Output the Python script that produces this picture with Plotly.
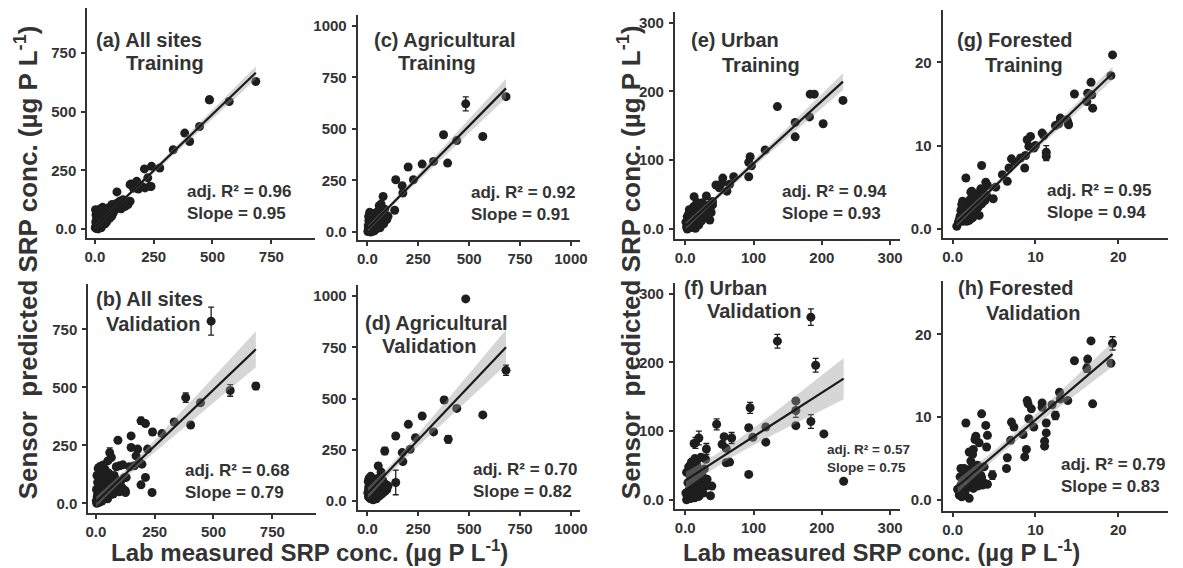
import numpy as np
import plotly.graph_objects as go

W, H = 1183, 568

# ---------------- data ----------------
# (a) All sites - Training
a_x = [684, 571, 487, 445, 382, 403, 333, 276, 241, 211, 234, 213, 150, 178, 164, 185, 199, 225, 154, 239, 94, 150, 141, 101, 129, 112, 73,
       2, 4, 5, 6, 8, 9, 10, 12, 13, 15, 16, 18, 20, 22, 24, 25, 28, 30, 32, 34, 36, 38, 40, 42, 45, 48, 50, 52, 55, 58, 60, 63, 65, 68,
       70, 72, 75, 78, 80, 83, 86, 90, 94, 98, 102, 106, 110, 115, 120, 126, 3, 7, 11, 14, 19, 23, 27, 33, 44, 53]
a_y = [629, 544, 551, 437, 409, 373, 338, 260, 267, 256, 182, 175, 189, 203, 174, 170, 182, 218, 192, 181, 158, 118, 104, 90, 96, 86, 104,
       5, 30, 60, 15, 45, 75, 20, 55, 8, 38, 68, 25, 50, 80, 12, 40, 62, 28, 48, 18, 70, 35, 55, 85, 42, 65, 30, 75, 52, 90, 60, 45, 80, 70,
       95, 55, 85, 68, 100, 78, 92, 88, 110, 98, 105, 118, 95, 112, 125, 120, 82, 2, 72, 0, 10, 85, 5, 92, 22, 62]
a_ex = [487]
a_ey = [551]
a_ee = [12]

# (b) All sites - Validation
b_x = [445, 403, 150, 94, 220, 178, 171, 196, 211, 192, 239, 101, 143, 129, 126, 66, 51, 150, 185, 164, 115, 87,
       2, 3, 5, 6, 8, 10, 11, 12, 14, 15, 17, 18, 20, 22, 24, 25, 27, 28, 30, 32, 34, 35, 38, 40, 42, 44, 46, 48, 50, 52, 55, 58, 60,
       63, 66, 70, 74, 78, 82, 86, 90, 95, 100, 105, 110, 115, 120, 125, 4, 9, 13, 16, 21, 26, 31, 37, 43, 54, 65, 80]
b_y = [434, 338, 291, 272, 234, 234, 205, 169, 112, 80, 47, 162, 158, 112, 47, 198, 183, 241, 180, 162, 166, 158,
       10, 60, 120, 30, 90, 150, 20, 70, 130, 5, 45, 110, 160, 35, 85, 140, 15, 65, 100, 50, 125, 25, 80, 145, 40, 95, 60, 115, 20, 75,
       130, 35, 90, 55, 105, 70, 40, 120, 85, 60, 100, 75, 50, 95, 70, 60, 110, 55, 0, 40, 155, 80, 115, 10, 165, 55, 135, 30, 45, 65]
b_ex = [490, 680, 571, 382, 192, 211, 59, 333, 241, 281]
b_ey = [786, 506, 487, 456, 356, 344, 219, 351, 308, 301]
b_ee = [60, 15, 25, 20, 15, 12, 20, 10, 12, 8]

# (c) Agricultural - Training
c_x = [567, 439, 325, 269, 226, 171, 174, 139, 134, 77, 101, 58, 67,
       2, 4, 5, 7, 8, 10, 12, 14, 15, 17, 18, 20, 22, 24, 25, 27, 30, 32, 35, 38, 40, 42, 45, 48, 50, 52, 55, 58, 60, 62, 65, 68,
       70, 72, 75, 80, 85, 90, 95, 6, 11, 16, 21, 28, 34, 44]
c_y = [463, 443, 342, 329, 253, 224, 189, 253, 105, 172, 76, 127, 135,
       2, 30, 15, 55, 8, 40, 22, 70, 5, 45, 85, 28, 60, 12, 35, 90, 50, 18, 75, 40, 62, 25, 95, 55, 30, 80, 45, 70, 100, 20, 60, 35,
       85, 50, 70, 40, 110, 65, 60, 75, 95, 0, 50, 10, 5, 15]
c_ex = [483, 374, 394, 200, 681]
c_ey = [621, 471, 334, 315, 656]
c_ee = [34, 12, 12, 12, 10]

# (d) Agricultural - Validation
d_x = [483, 567, 439, 325, 236, 201, 139, 171, 174, 210, 101, 67,
       2, 4, 5, 7, 8, 10, 12, 14, 15, 17, 18, 20, 22, 24, 25, 27, 30, 32, 35, 38, 40, 42, 45, 48, 50, 52, 55, 58, 60, 62, 65, 68,
       70, 72, 75, 80, 85, 90, 95, 6, 11, 16, 21, 28, 34, 44]
d_y = [987, 420, 452, 337, 309, 374, 317, 236, 192, 252, 73, 141,
       40, 95, 20, 70, 110, 30, 55, 105, 10, 45, 80, 25, 60, 100, 15, 50, 85, 35, 65, 20, 95, 45, 75, 30, 110, 55, 40, 80, 25, 65, 90,
       50, 70, 35, 100, 60, 45, 80, 55, 60, 15, 120, 35, 5, 85, 10]
d_ex = [681, 377, 397, 85, 139, 53, 269]
d_ey = [638, 493, 301, 244, 90, 171, 415]
d_ee = [25, 15, 18, 18, 60, 15, 10]

# (e) Urban - Training
e_x = [231, 202, 189, 183, 182, 161, 161, 135, 117, 95, 93, 97, 93, 71, 61, 55, 45, 54, 36, 31, 13, 50, 65, 40, 35,
       1, 2, 3, 4, 5, 6, 7, 8, 9, 10, 11, 12, 13, 14, 15, 16, 17, 18, 19, 20, 21, 22, 24, 25, 26, 28, 30, 32, 34, 36, 38, 40,
       3, 6, 9, 12, 15, 18]
e_y = [187, 153, 196, 196, 163, 155, 134, 178, 115, 105, 97, 92, 76, 76, 55, 74, 64, 67, 13, 48, 47, 60, 65, 40, 35,
       10, 3, 18, 8, 22, 5, 15, 25, 12, 2, 20, 30, 8, 17, 35, 10, 25, 14, 28, 6, 33, 20, 12, 38, 18, 28, 22, 32, 26, 30, 24, 35,
       0, 28, 5, 32, 1, 38]
e_ex = []
e_ey = []
e_ee = []

# (f) Urban - Validation
f_x = [162, 162, 203, 232, 118, 118, 99, 93, 93, 57, 54, 60, 13, 30, 39, 37, 60, 65,
       1, 2, 3, 4, 5, 6, 7, 8, 9, 10, 11, 12, 13, 14, 15, 16, 17, 18, 19, 20, 21, 22, 23, 24, 25, 26, 27, 28, 30, 32,
       2, 5, 8, 11, 14, 17, 20]
f_y = [144, 108, 96, 27, 106, 84, 91, 105, 37, 92, 81, 54, 82, 59, 20, 6, 75, 55,
       10, 40, 5, 25, 48, 15, 35, 2, 55, 20, 45, 8, 30, 60, 12, 38, 50, 18, 28, 5, 42, 22, 62, 15, 35, 10, 25, 45, 20, 30,
       0, 12, 50, 38, 3, 58, 15]
f_ex = [184, 135, 191, 162, 184, 95, 46, 68, 31, 20, 15]
f_ey = [266, 231, 196, 130, 114, 134, 110, 90, 74, 90, 83]
f_ee = [12, 10, 10, 10, 10, 8, 8, 8, 8, 10, 8]

# (g) Forested - Training
g_x = [19.3, 19.1, 16.7, 16.8, 16.3, 16.2, 16.9, 14.7, 13.9, 13.8, 13.0, 12.4, 10.8, 9.4, 9.0, 9.2, 9.8, 8.7, 8.2, 7.1, 6.8, 6.6,
       3.5, 4.0, 4.9, 1.6, 1.2, 2.3, 11.0, 12.8, 14.0, 10.0, 7.5, 6.0, 5.2, 4.2, 3.6, 8.8,
       0.5, 0.7, 0.9, 1.0, 1.2, 1.3, 1.5, 1.6, 1.8, 1.9, 2.0, 2.1, 2.3, 2.4, 2.5, 2.6, 2.8, 2.9, 3.0, 3.1, 3.3, 3.5, 3.7, 3.9, 4.1,
       0.8, 1.1, 1.7, 2.2, 2.7, 3.2, 3.4]
g_y = [20.9, 18.4, 17.6, 16.1, 16.3, 15.3, 14.5, 16.2, 12.8, 13.1, 13.3, 12.4, 11.5, 11.1, 10.7, 9.9, 9.7, 7.3, 8.5, 8.4, 7.3, 5.7,
       7.6, 5.6, 3.6, 6.1, 3.3, 4.5, 11.2, 12.6, 12.5, 10.0, 8.0, 6.5, 5.0, 5.2, 4.0, 8.8,
       0.3, 0.8, 1.5, 2.2, 0.9, 1.8, 2.6, 1.2, 3.0, 2.0, 1.0, 3.5, 2.4, 1.3, 3.8, 2.8, 1.8, 4.2, 3.2, 2.6, 3.9, 3.0, 4.5, 3.4, 4.0,
       1.1, 2.9, 0.9, 4.4, 2.2, 1.6, 4.8]
g_ex = [11.3, 11.3]
g_ey = [9.2, 8.7]
g_ee = [0.8, 0.5]

# (h) Forested - Validation
h_x = [19.1, 16.7, 16.3, 16.9, 14.7, 12.9, 13.9, 11.3, 11.3, 11.1, 11.1, 10.8, 10.8, 9.0, 9.1, 9.5, 9.2, 9.8, 8.5, 8.9, 8.7,
       7.1, 7.4, 6.6, 6.5, 3.5, 4.0, 4.2, 4.1, 1.6, 2.8, 2.5, 2.2, 2.7, 1.0, 1.4, 3.5, 13.0, 12.0, 7.0, 3.8, 3.0, 2.0, 2.4, 3.2,
       0.6, 0.8, 1.0, 1.1, 1.3, 1.5, 1.7, 1.9, 2.0, 2.2, 2.3, 2.5, 2.7, 2.8, 3.0, 3.2, 3.4, 3.6, 3.9, 4.2, 0.9, 1.2, 1.6, 2.1, 2.6, 3.1]
h_y = [16.5, 19.2, 17.0, 11.6, 16.8, 13.0, 12.0, 9.3, 8.1, 7.1, 6.5, 11.7, 11.2, 12.0, 11.6, 11.0, 9.8, 8.8, 7.9, 6.1, 5.2,
       9.4, 8.8, 5.1, 3.8, 10.4, 9.0, 7.8, 6.4, 9.3, 7.7, 6.1, 4.7, 7.3, 3.8, 3.8, 2.7, 12.2, 11.5, 7.2, 4.0, 3.5, 5.8, 5.5, 6.9,
       1.3, 0.6, 1.8, 0.4, 2.5, 1.0, 3.2, 1.6, 0.2, 2.1, 3.8, 1.4, 2.6, 1.9, 4.2, 2.3, 3.0, 1.8, 2.0, 1.9, 2.8, 0.8, 3.5, 2.7, 2.0, 1.7]
h_ex = [19.3, 12.4, 4.8, 16.2]
h_ey = [18.9, 10.2, 3.0, 15.9]
h_ee = [0.8, 0.5, 0.5, 0.5]

# fitted lines (intercept, slope)
fit_intercept = {"a": 8, "b": 5, "c": 15, "d": 36, "e": 4, "f": 28, "g": 0.26, "h": 1.15}
fit_slope = {"a": 0.963, "b": 0.97, "c": 1.0, "d": 1.05, "e": 0.91, "f": 0.64, "g": 0.955, "h": 0.852}

titles = {
    "a": ("(a) All sites", "Training"), "b": ("(b) All sites", "Validation"),
    "c": ("(c) Agricultural", "Training"), "d": ("(d) Agricultural", "Validation"),
    "e": ("(e) Urban", "Training"), "f": ("(f) Urban", "Validation"),
    "g": ("(g) Forested", "Training"), "h": ("(h) Forested", "Validation"),
}
adj_r2 = {"a": "0.96", "b": "0.68", "c": "0.92", "d": "0.70", "e": "0.94", "f": "0.57", "g": "0.95", "h": "0.79"}
slope_lbl = {"a": "0.95", "b": "0.79", "c": "0.91", "d": "0.82", "e": "0.93", "f": "0.75", "g": "0.94", "h": "0.83"}

ticks_all = [0, 250, 500, 750]
ticks_all_txt = ["0.0", "250", "500", "750"]
ticks_ag = [0, 250, 500, 750, 1000]
ticks_ag_txt = ["0.0", "250", "500", "750", "1000"]
ticks_urb = [0, 100, 200, 300]
ticks_urb_txt = ["0.0", "100", "200", "300"]
ticks_for = [0, 10, 20]
ticks_for_txt = ["0.0", "10", "20"]

data = {
    "a": (a_x, a_y, a_ex, a_ey, a_ee), "b": (b_x, b_y, b_ex, b_ey, b_ee),
    "c": (c_x, c_y, c_ex, c_ey, c_ee), "d": (d_x, d_y, d_ex, d_ey, d_ee),
    "e": (e_x, e_y, e_ex, e_ey, e_ee), "f": (f_x, f_y, f_ex, f_ey, f_ee),
    "g": (g_x, g_y, g_ex, g_ey, g_ee), "h": (h_x, h_y, h_ex, h_ey, h_ee),
}

# ---------------- layout (pixels) ----------------
layout_spec = {
    "a": (1, (85, 315, 8, 238), [-32, 937], [-37, 943], ticks_all, ticks_all_txt, ticks_all, ticks_all_txt),
    "c": (2, (357.7, 582, 15, 240), [-48, 1045], [-37, 1052], ticks_ag, ticks_ag_txt, ticks_ag, ticks_ag_txt),
    "e": (3, (677.7, 905, 11.7, 239), [-15, 315], [-14, 316], ticks_urb, ticks_urb_txt, ticks_urb, ticks_urb_txt),
    "g": (4, (947.7, 1175, 10, 238.3), [-1.2, 26], [-1.1, 26.3], ticks_for, ticks_for_txt, ticks_for, ticks_for_txt),
    "b": (5, (86, 316, 285, 514), [-32, 937], [-42, 944], ticks_all, ticks_all_txt, ticks_all, ticks_all_txt),
    "d": (6, (357.7, 582, 285.7, 511), [-48, 1045], [-45, 1054], ticks_ag, ticks_ag_txt, ticks_ag, ticks_ag_txt),
    "f": (7, (677.7, 905, 283.3, 510), [-15, 315], [-13.5, 316], ticks_urb, ticks_urb_txt, ticks_urb, ticks_urb_txt),
    "h": (8, (947.7, 1175, 281.7, 511.7), [-1.2, 26], [-1.3, 26.4], ticks_for, ticks_for_txt, ticks_for, ticks_for_txt),
}
title_pos = {
    "a": ((92, 40), (122, 63)), "c": ((371.7, 40), (396.7, 63)),
    "e": ((691.7, 40), (723, 65)), "g": ((960, 40), (988.3, 65)),
    "b": ((92, 300), (102, 324.3)), "d": ((362.7, 323.3), (380.7, 346.7)),
    "f": ((685, 288.3), (708.3, 311.7)), "h": ((961, 289), (989.3, 313.3)),
}
stat_pos = {
    "a": (184, 203.3, 17), "c": (470, 203.8, 17), "b": (181.7, 482.8, 17), "d": (471.7, 481.7, 17),
    "e": (783.3, 202.7, 17), "g": (1050.7, 201.7, 17), "f": (829.3, 459.7, 13.5), "h": (1065, 476.7, 17),
}

FONT = "Liberation Sans, Arial, sans-serif"
DARK = "#333333"
PT = "#1e1e1e"

fig = go.Figure()
layout = dict(
    width=W, height=H, margin=dict(l=0, r=0, t=0, b=0),
    paper_bgcolor="white", plot_bgcolor="white", showlegend=False,
    font=dict(family=FONT, color=DARK),
)
annotations = []

for key, (idx, (l, r, t, b), xr, yr, xt, xtt, yt, ytt) in layout_spec.items():
    xs, ys, ex, ey, ee = data[key]
    sfx = "" if idx == 1 else str(idx)
    xa, ya = "x" + sfx, "y" + sfx
    fig.add_trace(go.Scatter(x=xs, y=ys, mode="markers", xaxis=xa, yaxis=ya,
                             marker=dict(size=9, color=PT, line=dict(width=0)), hoverinfo="skip"))
    if ex:
        fig.add_trace(go.Scatter(x=ex, y=ey, mode="markers", xaxis=xa, yaxis=ya,
                                 marker=dict(size=9, color=PT, line=dict(width=0)),
                                 error_y=dict(type="data", array=ee, color=PT, thickness=1.3, width=3),
                                 hoverinfo="skip"))
    # regression line + 95% CI band
    allx = np.array(list(xs) + list(ex), dtype=float)
    ally = np.array(list(ys) + list(ey), dtype=float)
    b0, b1 = fit_intercept[key], fit_slope[key]
    n = len(allx)
    res = ally - (b0 + b1 * allx)
    s = np.sqrt(np.sum(res ** 2) / (n - 2))
    xbar = allx.mean()
    sxx = np.sum((allx - xbar) ** 2)
    gx = np.linspace(allx.min(), allx.max(), 80)
    gy = b0 + b1 * gx
    half = 1.97 * s * np.sqrt(1.0 / n + (gx - xbar) ** 2 / sxx)
    fig.add_trace(go.Scatter(x=np.concatenate([gx, gx[::-1]]), y=np.concatenate([gy + half, (gy - half)[::-1]]),
                             mode="lines", fill="toself", fillcolor="rgba(153,153,153,0.4)",
                             line=dict(width=0), xaxis=xa, yaxis=ya, hoverinfo="skip"))
    fig.add_trace(go.Scatter(x=gx, y=gy, mode="lines", line=dict(color="#1a1a1a", width=2.2),
                             xaxis=xa, yaxis=ya, hoverinfo="skip"))

    axcommon = dict(showline=True, linecolor=DARK, linewidth=2, ticks="outside", ticklen=4,
                    tickwidth=1.5, tickcolor=DARK, showgrid=False, zeroline=False,
                    tickfont=dict(family=FONT, size=15, color=DARK, weight="bold"))
    layout["xaxis" + sfx] = dict(domain=[l / W, r / W], range=xr, anchor=ya, tickvals=xt, ticktext=xtt,
                                 **axcommon)
    layout["yaxis" + sfx] = dict(domain=[1 - b / H, 1 - t / H], range=yr, anchor=xa, tickvals=yt, ticktext=ytt,
                                 ticklabelstandoff=2, **axcommon)

    (p1, p2) = title_pos[key]
    for (px, py), txt in zip((p1, p2), titles[key]):
        annotations.append(dict(text=txt, x=px / W, y=1 - py / H, xref="paper", yref="paper",
                                xanchor="left", yanchor="middle", showarrow=False,
                                font=dict(family=FONT, size=20, color=DARK, weight="bold")))
    sx, sy, fs = stat_pos[key]
    annotations.append(dict(text=f"adj. R² = {adj_r2[key]}<br>Slope = {slope_lbl[key]}",
                            x=sx / W, y=1 - sy / H, xref="paper", yref="paper", align="left",
                            xanchor="left", yanchor="middle", showarrow=False,
                            font=dict(family=FONT, size=fs, color=DARK, weight="bold")))

ytitle = "Sensor\u00a0 predicted SRP conc. (µg P L<sup>-1</sup>)"
xtitle = "Lab measured SRP conc. (µg P L<sup>-1</sup>)"
for (px, py) in [(24, 263), (632, 263)]:
    annotations.append(dict(text=ytitle, x=px / W, y=1 - py / H, xref="paper", yref="paper", textangle=-90,
                            xanchor="center", yanchor="middle", showarrow=False,
                            font=dict(family=FONT, size=26, color=DARK, weight="bold")))
for (px, py) in [(309, 552), (886, 552)]:
    annotations.append(dict(text=xtitle, x=px / W, y=1 - py / H, xref="paper", yref="paper",
                            xanchor="center", yanchor="middle", showarrow=False,
                            font=dict(family=FONT, size=24, color=DARK, weight="bold")))

layout["annotations"] = annotations
fig.update_layout(**layout)
fig.write_html("out.html")
